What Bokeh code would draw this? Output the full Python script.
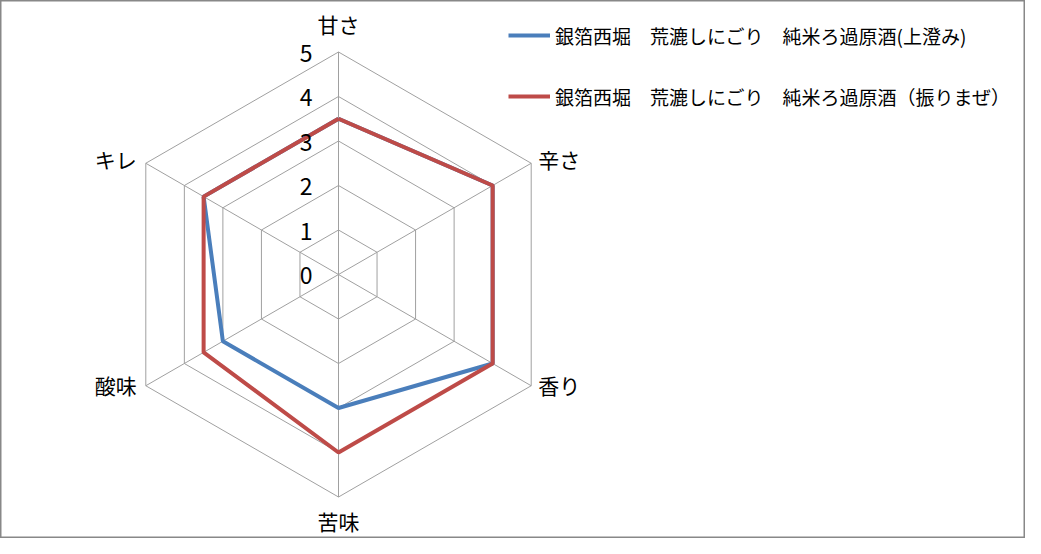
import numpy as np
from bokeh.plotting import figure
from bokeh.models import Legend, LegendItem, ColumnDataSource
from bokeh.core.properties import value
from bokeh.embed import file_html
from bokeh.resources import INLINE

# ---- data ----
categories = ["甘さ", "辛さ", "香り", "苦味", "酸味", "キレ"]
series_names = [
    "銀箔西堀\u3000荒漉しにごり\u3000純米ろ過原酒(上澄み)",
    "銀箔西堀\u3000荒漉しにごり\u3000純米ろ過原酒（振りまぜ）",
]
blue_values = [3.5, 4, 4, 3, 3, 3.5]
red_values = [3.5, 4, 4, 4, 3.5, 3.5]
tick_values = [0, 1, 2, 3, 4, 5]
tick_labels = ["0", "1", "2", "3", "4", "5"]
max_value = 5

# ---- layout ----
W, H = 1025, 538
PX = 44.5          # pixels per unit
CX, CY = 338, 274  # centre of radar in canvas px (from left / top)
FONT = "Noto Sans CJK JP"
BLUE = "#4a7ebb"
RED = "#be4b48"
GRID = "#a0a0a0"

p = figure(width=W, height=H, output_backend="svg", toolbar_location=None,
           x_range=(-CX / PX, (W - CX) / PX), y_range=(-(H - CY) / PX, CY / PX),
           min_border=0, match_aspect=False)
p.axis.visible = False
p.grid.visible = False
p.outline_line_color = "#888888"
p.outline_line_width = 2
p.background_fill_color = "white"
p.border_fill_color = "white"

n = len(categories)
ang = np.pi / 2 - np.arange(n) * 2 * np.pi / n
cosv, sinv = np.cos(ang), np.sin(ang)

# grid hexagons
for r in tick_values[1:]:
    xs = list(r * cosv) + [r * cosv[0]]
    ys = list(r * sinv) + [r * sinv[0]]
    p.line(xs, ys, line_color=GRID, line_width=1)
# spokes
p.segment(x0=[0] * n, y0=[0] * n, x1=list(max_value * cosv), y1=list(max_value * sinv),
          line_color=GRID, line_width=1)

# series
def closed(vals):
    v = np.array(vals, dtype=float)
    xs = list(v * cosv) + [v[0] * cosv[0]]
    ys = list(v * sinv) + [v[0] * sinv[0]]
    return xs, ys

bx, by = closed(blue_values)
rx, ry = closed(red_values)
r_blue = p.line(bx, by, line_color=BLUE, line_width=4)
r_red = p.line(rx, ry, line_color=RED, line_width=4)

# tick labels
p.text(x=[0] * len(tick_values), y=tick_values, text=tick_labels,
       text_align="right", text_baseline="middle", x_offset=-26, y_offset=1,
       text_font=value(FONT), text_font_size="23px", text_color="#000000")

# category labels
aligns, xoffs, yoffs = [], [], []
for c, s in zip(cosv, sinv):
    if c > 0.1:
        aligns.append("left"); xoffs.append(7); yoffs.append(-4 if s > 0 else -1)
    elif c < -0.1:
        aligns.append("right"); xoffs.append(-9); yoffs.append(-4 if s > 0 else -1)
    else:
        aligns.append("center"); xoffs.append(0); yoffs.append(-28 if s > 0 else 24)
src = ColumnDataSource(dict(x=list(max_value * cosv), y=list(max_value * sinv),
                            t=categories, a=aligns, xo=xoffs, yo=yoffs))
p.text(x="x", y="y", text="t", source=src, text_align="a", text_baseline="middle",
       x_offset="xo", y_offset="yo", text_font=value(FONT), text_font_size="21px",
       text_color="#000000")

# legend
legend = Legend(items=[LegendItem(label=series_names[0], renderers=[r_blue]),
                       LegendItem(label=series_names[1], renderers=[r_red])],
                location=(508, 427), orientation="vertical",
                glyph_width=42, glyph_height=30, label_height=30, spacing=31,
                label_standoff=5, padding=0, margin=0,
                border_line_color=None, background_fill_alpha=0,
                label_text_font=FONT, label_text_font_size="19px",
                label_text_color="#000000")
p.add_layout(legend)

open("out.html", "w").write(file_html(p, INLINE))
